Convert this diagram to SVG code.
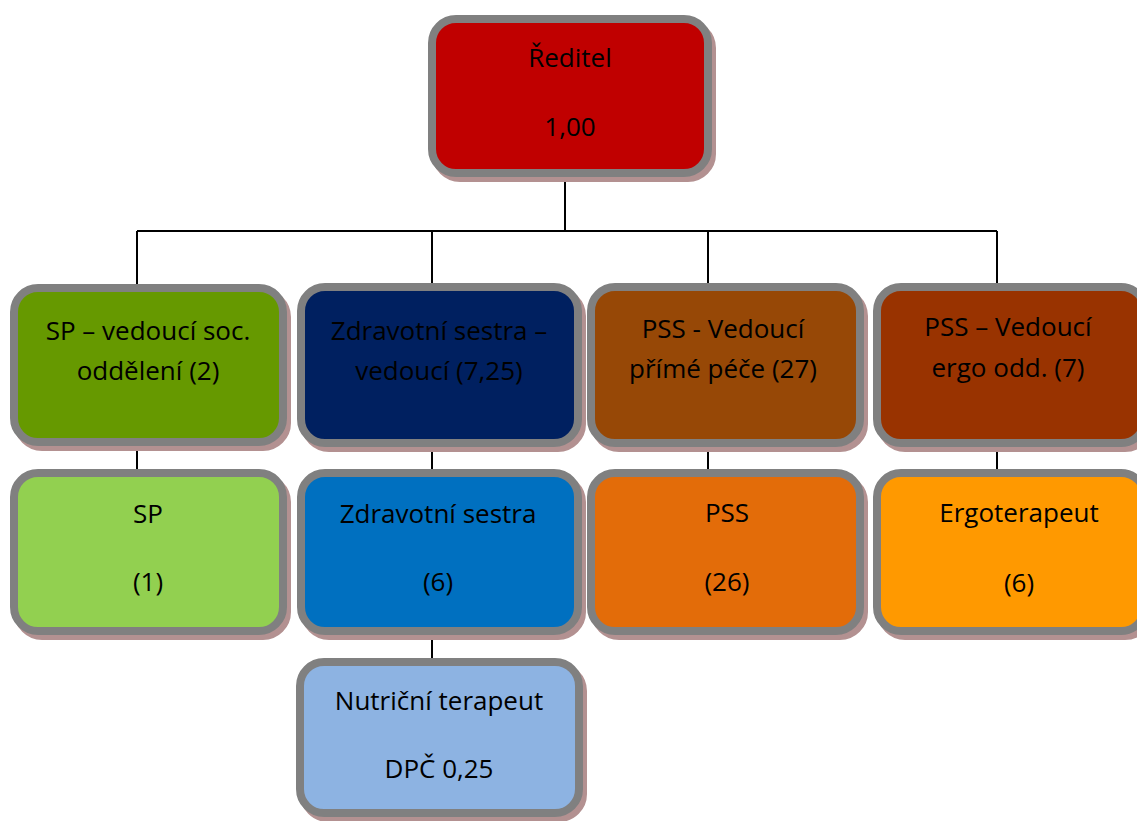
<svg xmlns="http://www.w3.org/2000/svg" width="1137" height="821" viewBox="0 0 1137 821">
<style>
.sh{fill:#b39191;stroke:#b39191;stroke-width:8}
.bx{stroke:#808080;stroke-width:8}
.t{font-family:"Open Sans","Liberation Sans",sans-serif;font-size:26px;fill:#000;text-anchor:middle}
.c{stroke:#000;stroke-width:2;fill:none}
</style>
<rect width="1137" height="821" fill="#fff"/>
<g id="connectors">
<path class="c" d="M565 176V231M137 231H997M137 231V288M432 231V287M708 231V287M997 231V287"/>
<path class="c" d="M137 446V473M432 447V473M708 447V473M997 447V473M432 635V662"/>
</g>
<g id="n-reditel">
<rect class="sh" x="436" y="24" width="276" height="154" rx="24"/>
<rect class="bx" x="432" y="19" width="276" height="154" rx="24" fill="#c00000"/>
<text class="t" x="570" y="67">Ředitel</text>
<text class="t" x="570" y="136">1,00</text>
</g>
<g id="n-sp-ved">
<rect class="sh" x="18" y="293" width="269" height="154" rx="24"/>
<rect class="bx" x="14" y="288" width="269" height="154" rx="24" fill="#669900"/>
<text class="t" x="148" y="340">SP – vedoucí soc.</text>
<text class="t" x="148" y="380">oddělení (2)</text>
</g>
<g id="n-zs-ved">
<rect class="sh" x="305" y="292" width="277" height="156" rx="24"/>
<rect class="bx" x="301" y="287" width="277" height="156" rx="24" fill="#002060"/>
<text class="t" x="439" y="340">Zdravotní sestra –</text>
<text class="t" x="439" y="380">vedoucí (7,25)</text>
</g>
<g id="n-pss-ved">
<rect class="sh" x="595" y="292" width="269" height="156" rx="24"/>
<rect class="bx" x="591" y="287" width="269" height="156" rx="24" fill="#974806"/>
<text class="t" x="723" y="338">PSS - Vedoucí</text>
<text class="t" x="723" y="378">přímé péče (27)</text>
</g>
<g id="n-ergo-ved">
<rect class="sh" x="881" y="292" width="268" height="156" rx="24"/>
<rect class="bx" x="877" y="287" width="268" height="156" rx="24" fill="#993300"/>
<text class="t" x="1008" y="336">PSS – Vedoucí</text>
<text class="t" x="1008" y="377">ergo odd. (7)</text>
</g>
<g id="n-sp">
<rect class="sh" x="18" y="478" width="269" height="158" rx="24"/>
<rect class="bx" x="14" y="473" width="269" height="158" rx="24" fill="#92d050"/>
<text class="t" x="148" y="523">SP</text>
<text class="t" x="148" y="591">(1)</text>
</g>
<g id="n-zs">
<rect class="sh" x="305" y="478" width="277" height="158" rx="24"/>
<rect class="bx" x="301" y="473" width="277" height="158" rx="24" fill="#0070c0"/>
<text class="t" x="438" y="523">Zdravotní sestra</text>
<text class="t" x="438" y="591">(6)</text>
</g>
<g id="n-pss">
<rect class="sh" x="595" y="478" width="269" height="158" rx="24"/>
<rect class="bx" x="591" y="473" width="269" height="158" rx="24" fill="#e36c09"/>
<text class="t" x="727" y="522">PSS</text>
<text class="t" x="727" y="591">(26)</text>
</g>
<g id="n-ergo">
<rect class="sh" x="881" y="478" width="268" height="158" rx="24"/>
<rect class="bx" x="877" y="473" width="268" height="158" rx="24" fill="#ff9900"/>
<text class="t" x="1019" y="522">Ergoterapeut</text>
<text class="t" x="1019" y="592">(6)</text>
</g>
<g id="n-nutri">
<rect class="sh" x="304" y="667" width="279" height="151" rx="24"/>
<rect class="bx" x="300" y="662" width="279" height="151" rx="24" fill="#8db3e2"/>
<text class="t" x="439" y="710">Nutriční terapeut</text>
<text class="t" x="439" y="778">DPČ 0,25</text>
</g>
</svg>
